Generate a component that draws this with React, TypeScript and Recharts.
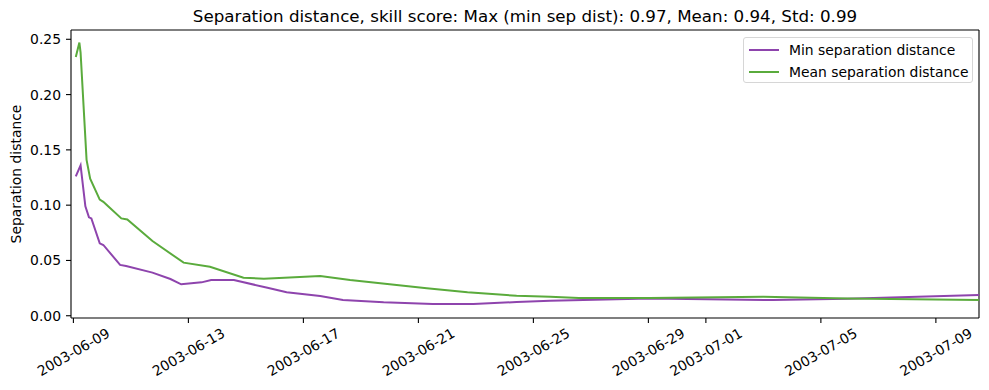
import { LineChart, Line, XAxis, YAxis, Legend, CartesianGrid } from 'recharts';

// min separation distance over time
const minTimes = [
  '2003-06-09 02:00', '2003-06-09 06:00', '2003-06-09 10:00', '2003-06-09 13:00',
  '2003-06-09 15:00', '2003-06-09 22:00', '2003-06-10 01:00', '2003-06-10 15:00',
  '2003-06-10 20:00', '2003-06-11 18:00', '2003-06-12 09:00', '2003-06-12 18:00',
  '2003-06-13 11:00', '2003-06-13 19:00', '2003-06-14 14:00', '2003-06-15 18:00',
  '2003-06-16 10:00', '2003-06-17 14:00', '2003-06-18 09:00', '2003-06-19 19:00',
  '2003-06-21 12:00', '2003-06-22 22:00', '2003-06-24 10:00', '2003-06-25 14:00',
  '2003-06-29 01:00', '2003-07-03 08:00', '2003-07-05 22:00', '2003-07-10 12:00',
];
const minValues = [
  0.126, 0.136, 0.099, 0.089, 0.088, 0.0655, 0.064, 0.046, 0.045, 0.039, 0.0332, 0.0284,
  0.0302, 0.0323, 0.0323, 0.0253, 0.0212, 0.0178, 0.0142, 0.0121, 0.0106, 0.0106, 0.0124,
  0.0136, 0.0155, 0.0142, 0.0154, 0.0187,
];

// mean separation distance over time
const meanTimes = [
  '2003-06-09 02:00', '2003-06-09 05:00', '2003-06-09 06:00', '2003-06-09 11:00',
  '2003-06-09 14:00', '2003-06-09 22:00', '2003-06-10 01:00', '2003-06-10 05:00',
  '2003-06-10 16:00', '2003-06-10 21:00', '2003-06-11 18:00', '2003-06-12 20:00',
  '2003-06-13 18:00', '2003-06-14 22:00', '2003-06-15 15:00', '2003-06-17 14:00',
  '2003-06-18 15:00', '2003-06-20 00:00', '2003-06-21 07:00', '2003-06-22 17:00',
  '2003-06-24 10:00', '2003-06-25 14:00', '2003-06-26 14:00', '2003-06-29 01:00',
  '2003-07-03 00:00', '2003-07-05 22:00', '2003-07-10 12:00',
];
const meanValues = [
  0.234, 0.247, 0.238, 0.141, 0.124, 0.105, 0.103, 0.099, 0.088, 0.087, 0.0676, 0.048,
  0.0443, 0.0344, 0.0335, 0.0359, 0.0323, 0.0284, 0.0248, 0.0212, 0.0181, 0.0172, 0.016,
  0.016, 0.0172, 0.0157, 0.0142,
];

const xTickDates = [
  '2003-06-09', '2003-06-13', '2003-06-17', '2003-06-21', '2003-06-25',
  '2003-06-29', '2003-07-01', '2003-07-05', '2003-07-09',
];
const yTicks = [0, 0.05, 0.1, 0.15, 0.2, 0.25];

const TITLE = 'Separation distance, skill score: Max (min sep dist): 0.97, Mean: 0.94, Std: 0.99';
const FONT = '"DejaVu Sans", sans-serif';
const PURPLE = '#8e44ad';
const GREEN = '#5aab3c';

const W = 989;
const H = 390;
const MARGIN = { top: 30, right: 10, left: 0, bottom: 0 };
const Y_AXIS_W = 71;
const X_AXIS_H = 72;

const toMs = (s: string) => Date.parse(s.replace(' ', 'T') + (s.length > 10 ? ':00Z' : 'T00:00:00Z'));
const HOUR = 3600 * 1000;

const minData = minTimes.map((t, i) => ({ t: toMs(t), v: minValues[i] }));
const meanData = meanTimes.map((t, i) => ({ t: toMs(t), v: meanValues[i] }));
const xTicks = xTickDates.map(toMs);
const xDomain = [toMs('2003-06-09') - 2 * HOUR, toMs('2003-07-10 12:00')];
const yDomain = [-0.00204, 0.2584];

const fmtDate = (ms: number) => {
  const d = new Date(ms);
  const p = (n: number) => String(n).padStart(2, '0');
  return `${d.getUTCFullYear()}-${p(d.getUTCMonth() + 1)}-${p(d.getUTCDate())}`;
};

function XTick(props: any) {
  const { x, y, payload } = props;
  return (
    <g transform={`translate(${x},${y + 29})`}>
      <text
        textAnchor="middle"
        dominantBaseline="central"
        transform="rotate(-30)"
        fontSize={13.9}
        fontFamily={FONT}
        fill="#000"
      >
        {fmtDate(payload.value)}
      </text>
    </g>
  );
}

function LegendBox() {
  const rows = [
    { color: PURPLE, label: 'Min separation distance' },
    { color: GREEN, label: 'Mean separation distance' },
  ];
  return (
    <div
      style={{
        boxSizing: 'border-box',
        width: 230,
        height: 46,
        border: '1px solid #d6d6d6',
        borderRadius: 3,
        background: 'rgba(255,255,255,0.8)',
        fontFamily: FONT,
        fontSize: 13.9,
        color: '#000',
        paddingTop: 1,
      }}
    >
      {rows.map((r) => (
        <div key={r.label} style={{ display: 'flex', alignItems: 'center', height: 22 }}>
          <span style={{ display: 'inline-block', width: 30, height: 2, background: r.color, marginLeft: 5, marginRight: 10 }} />
          <span style={{ lineHeight: '16px' }}>{r.label}</span>
        </div>
      ))}
    </div>
  );
}

export default function App() {
  const plotX = MARGIN.left + Y_AXIS_W;
  const plotY = MARGIN.top;
  const plotW = W - plotX - MARGIN.right;
  const plotH = H - MARGIN.top - MARGIN.bottom - X_AXIS_H;

  return (
    <div style={{ position: 'relative', width: W, height: H, margin: -8, background: '#fff' }}>
      <LineChart width={W} height={H} margin={MARGIN}>
        {/* top and right spines, placed by the chart's own offset */}
        <CartesianGrid
          stroke="#000"
          strokeWidth={1.1}
          horizontalCoordinatesGenerator={({ offset }: any) => [offset.top]}
          verticalCoordinatesGenerator={({ offset }: any) => [offset.left + offset.width]}
        />
        <XAxis
          dataKey="t"
          type="number"
          domain={xDomain}
          allowDataOverflow
          ticks={xTicks}
          interval={0}
          height={X_AXIS_H}
          tickSize={5}
          tickMargin={0}
          tick={<XTick />}
          axisLine={{ stroke: '#000', strokeWidth: 1.1 }}
          tickLine={{ stroke: '#000', strokeWidth: 1.1 }}
        />
        <YAxis
          type="number"
          domain={yDomain}
          allowDataOverflow
          ticks={yTicks}
          width={Y_AXIS_W}
          tickSize={5}
          tickMargin={5}
          tickFormatter={(v: number) => v.toFixed(2)}
          tick={{ fontSize: 13.9, fontFamily: FONT, fill: '#000' }}
          axisLine={{ stroke: '#000', strokeWidth: 1.1 }}
          tickLine={{ stroke: '#000', strokeWidth: 1.1 }}
        />
        <Legend
          layout="vertical"
          align="center"
          verticalAlign="middle"
          content={() => <LegendBox />}
          wrapperStyle={{ left: 743, top: 37, width: 230, height: 46 }}
        />
        <Line
          data={minData}
          dataKey="v"
          name="Min separation distance"
          type="linear"
          stroke={PURPLE}
          strokeWidth={2}
          dot={false}
          activeDot={false}
          isAnimationActive={false}
        />
        <Line
          data={meanData}
          dataKey="v"
          name="Mean separation distance"
          type="linear"
          stroke={GREEN}
          strokeWidth={2}
          dot={false}
          activeDot={false}
          isAnimationActive={false}
        />
      </LineChart>
      <svg width={W} height={H} style={{ position: 'absolute', left: 0, top: 0, pointerEvents: 'none' }}>
        <text x={plotX + plotW / 2} y={22} textAnchor="middle" fontSize={16.7} fontFamily={FONT} fill="#000">
          {TITLE}
        </text>
        <text
          x={16}
          y={plotY + plotH / 2}
          textAnchor="middle"
          dominantBaseline="central"
          transform={`rotate(-90 16 ${plotY + plotH / 2})`}
          fontSize={13.9}
          fontFamily={FONT}
          fill="#000"
        >
          Separation distance
        </text>
      </svg>
    </div>
  );
}
